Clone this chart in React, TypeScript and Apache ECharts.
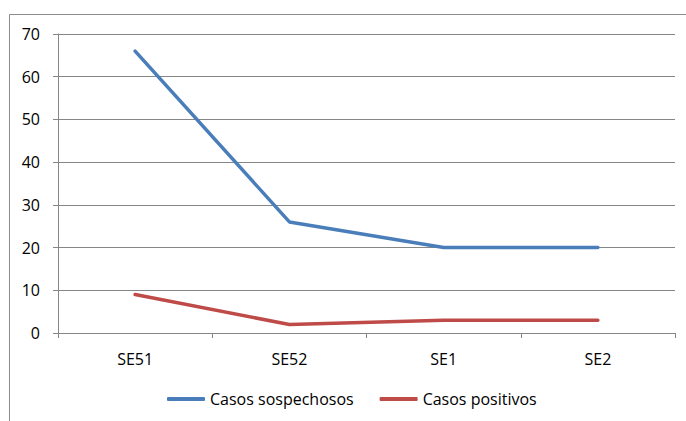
import React, { useEffect, useRef } from "react";
import * as echarts from "echarts";

const categories = ["SE51", "SE52", "SE1", "SE2"];
const sospechosos = [66, 26, 20, 20];
const positivos = [9, 2, 3, 3];
const seriesNames = ["Casos sospechosos", "Casos positivos"];

export default function App() {
  const ref = useRef<HTMLDivElement>(null);
  useEffect(() => {
    const chart = echarts.init(ref.current!, null, { renderer: "svg" });
    const font = "Open Sans";
    chart.setOption({
      animation: false,
      backgroundColor: "#ffffff",
      textStyle: { fontFamily: font },
      graphic: [
        {
          type: "rect",
          shape: { x: 9.5, y: 14.5, width: 700, height: 500 },
          style: { fill: "none", stroke: "#8c8c8c", lineWidth: 1 },
          silent: true,
        },
      ],
      grid: { left: 58, top: 34, right: 11, bottom: 88 },
      legend: {
        left: 167,
        top: 391,
        padding: 0,
        itemGap: 26,
        itemWidth: 38,
        itemHeight: 4,
        icon: "roundRect",
        textStyle: { fontFamily: font, fontSize: 16, color: "#000" },
        data: seriesNames,
      },
      xAxis: {
        type: "category",
        data: categories,
        boundaryGap: true,
        axisLine: { lineStyle: { color: "#868686", width: 1 } },
        axisTick: { show: true, length: 5, interval: 0, lineStyle: { color: "#868686" } },
        axisLabel: { color: "#000", fontSize: 16, fontFamily: font, margin: 18 },
      },
      yAxis: {
        type: "value",
        min: 0,
        max: 70,
        interval: 10,
        axisLine: { show: true, lineStyle: { color: "#868686", width: 1 } },
        axisTick: { show: true, length: 5, lineStyle: { color: "#868686" } },
        splitLine: { lineStyle: { color: "#868686", width: 1 } },
        axisLabel: { color: "#000", fontSize: 16, fontFamily: font, margin: 18 },
      },
      series: [
        {
          name: seriesNames[0],
          type: "line",
          data: sospechosos,
          symbol: "none",
          color: "#4a7ebb",
          lineStyle: { width: 3.5, color: "#4a7ebb", cap: "round", join: "round" },
        },
        {
          name: seriesNames[1],
          type: "line",
          data: positivos,
          symbol: "none",
          color: "#be4b48",
          lineStyle: { width: 3.5, color: "#be4b48", cap: "round", join: "round" },
        },
      ],
    });
    return () => chart.dispose();
  }, []);
  return (
    <div
      ref={ref}
      style={{ position: "fixed", left: 0, top: 0, width: 686, height: 421 }}
    />
  );
}
